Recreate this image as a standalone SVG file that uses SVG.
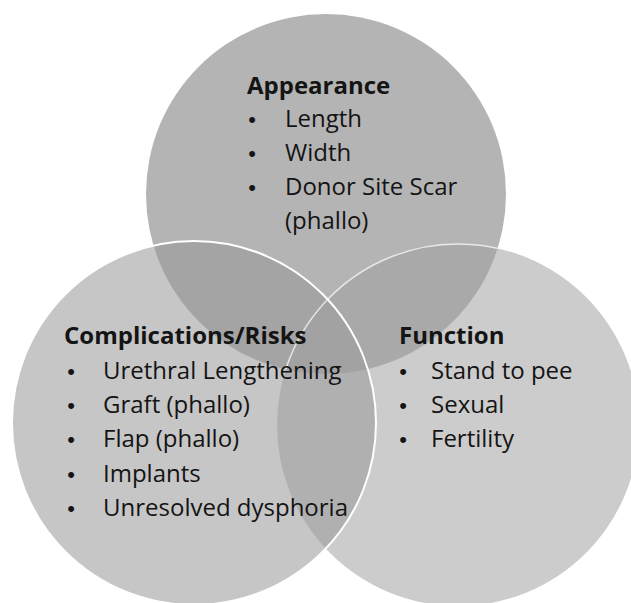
<svg xmlns="http://www.w3.org/2000/svg" width="631" height="603" viewBox="0 0 631 603">
  <style>
    text { font-family: "Open Sans", Lato, "Liberation Sans", sans-serif; font-size: 24px; fill: #141414; }
    .h { font-weight: bold; }
    .b { text-anchor: middle; font-family: "Liberation Sans", Arial, sans-serif; font-size: 22px; }
  </style>
  <defs>
    <clipPath id="cT"><circle cx="326" cy="194" r="180"/></clipPath>
    <clipPath id="cL"><circle cx="194" cy="423" r="182"/></clipPath>
    <clipPath id="cR"><circle cx="458" cy="425" r="181"/></clipPath>
  </defs>
  <rect width="631" height="603" fill="#ffffff"/>
  <g id="circles">
    <circle id="top-circle" cx="326" cy="194" r="180" fill="#b4b4b4"/>
    <circle id="left-circle" cx="194" cy="423" r="182" fill="#c6c6c6"/>
    <circle id="right-circle" cx="458" cy="425" r="181" fill="#cccccc"/>
    <g clip-path="url(#cT)">
      <circle cx="194" cy="423" r="182" fill="#a4a4a4"/>
      <circle cx="458" cy="425" r="181" fill="#a9a9a9"/>
    </g>
    <g clip-path="url(#cL)">
      <circle cx="458" cy="425" r="181" fill="#b0b0b0"/>
      <g clip-path="url(#cT)">
        <circle cx="458" cy="425" r="181" fill="#a2a2a2"/>
      </g>
    </g>
    <g clip-path="url(#cT)">
      <circle cx="458" cy="425" r="181" fill="none" stroke="#ffffff" stroke-opacity="0.7" stroke-width="1.5"/>
    </g>
    <circle cx="194" cy="423" r="182" fill="none" stroke="#ffffff" stroke-width="2"/>
  </g>
  <g id="appearance">
    <text class="h" x="247" y="94">Appearance</text>
    <text class="b" x="252" y="127">•</text><text x="285" y="127">Length</text>
    <text class="b" x="252" y="161">•</text><text x="285" y="161">Width</text>
    <text class="b" x="252" y="195">•</text><text x="285" y="195">Donor Site Scar</text>
    <text x="285" y="229">(phallo)</text>
  </g>
  <g id="complications">
    <text class="h" x="64" y="344">Complications/Risks</text>
    <text class="b" x="71" y="379">•</text><text x="103" y="379">Urethral Lengthening</text>
    <text class="b" x="71" y="413">•</text><text x="103" y="413">Graft (phallo)</text>
    <text class="b" x="71" y="447">•</text><text x="103" y="447">Flap (phallo)</text>
    <text class="b" x="71" y="482">•</text><text x="103" y="482">Implants</text>
    <text class="b" x="71" y="516">•</text><text x="103" y="516">Unresolved dysphoria</text>
  </g>
  <g id="function">
    <text class="h" x="399" y="344">Function</text>
    <text class="b" x="403" y="379">•</text><text x="431" y="379">Stand to pee</text>
    <text class="b" x="403" y="413">•</text><text x="431" y="413">Sexual</text>
    <text class="b" x="403" y="447">•</text><text x="431" y="447">Fertility</text>
  </g>
  <g id="connectors"/>
</svg>
